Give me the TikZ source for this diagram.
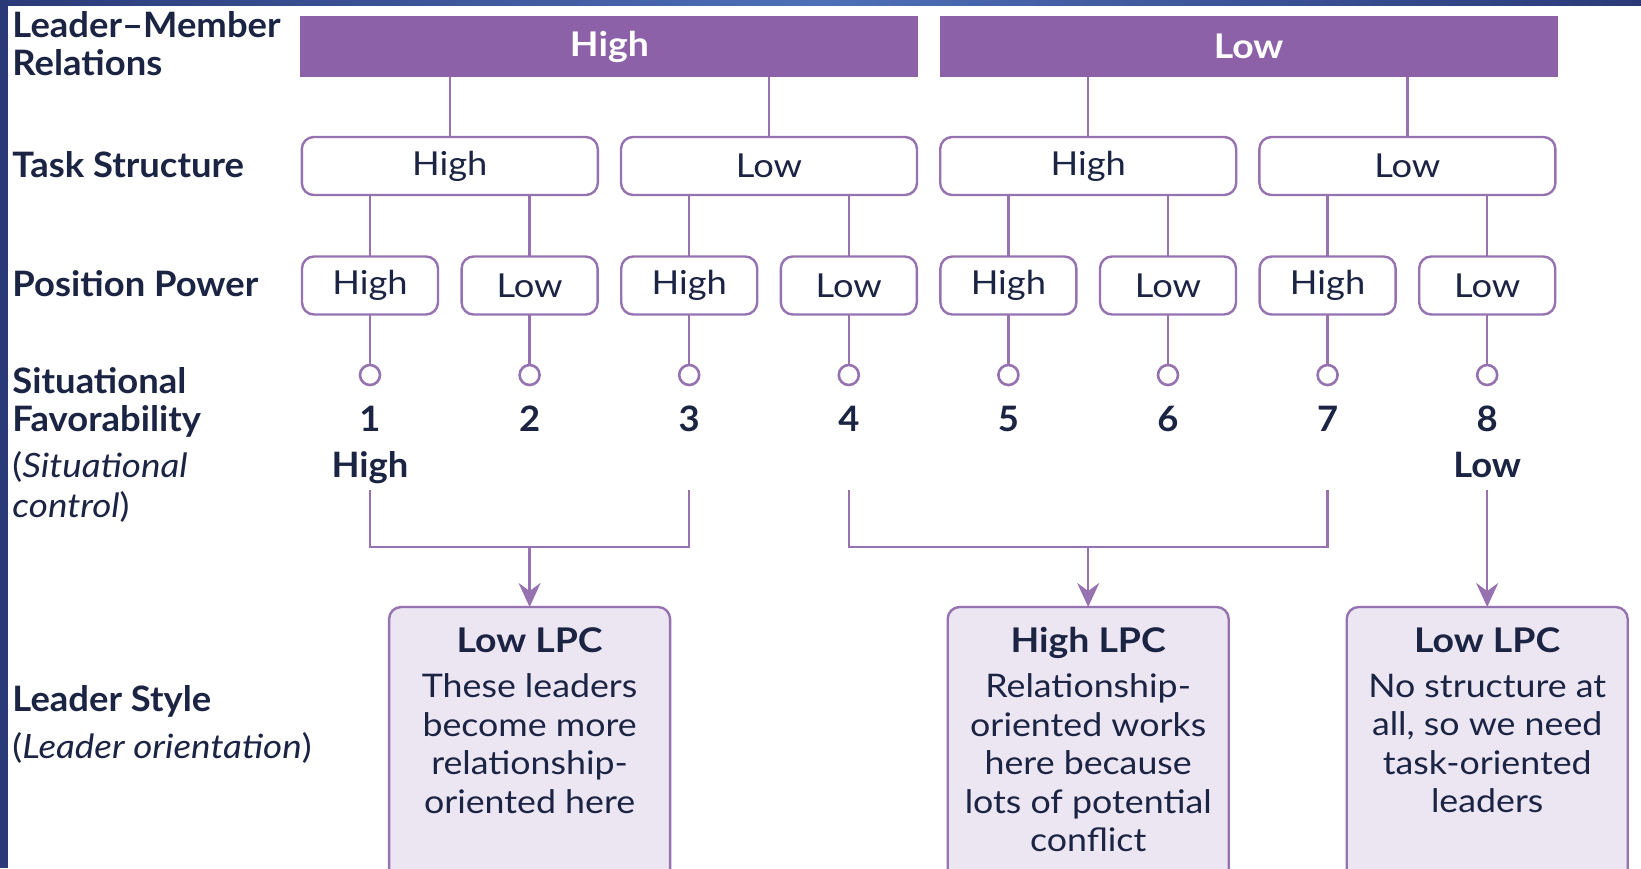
\documentclass[tikz,border=0pt]{standalone}
\usepackage{fontspec}
\setmainfont{Lato}[FakeStretch=1.1]
\newfontfamily\headfont{Lato}[FakeStretch=1.04]
\usetikzlibrary{arrows.meta}
\definecolor{ink}{HTML}{1C2444}
\definecolor{plum}{HTML}{8C61A8}
\definecolor{plumedge}{HTML}{9672B1}
\definecolor{lavender}{HTML}{ECE6F3}
\definecolor{navydark}{HTML}{2A3A78}
\definecolor{navylight}{HTML}{4E6FB7}
\begin{document}
\begin{tikzpicture}[x=1pt,y=-1pt,
  every node/.style={inner sep=0pt, outer sep=0pt, text=ink},
  rowlabel/.style={anchor=base west, font=\headfont\fontsize{35}{38}\selectfont\bfseries},
  rownote/.style={anchor=base west, font=\fontsize{33.5}{38}\selectfont},
  lmr/.style={fill=plum, minimum width=618pt, minimum height=61pt, text=white,
    font=\fontsize{34}{36}\selectfont\bfseries},
  choice/.style={draw=plumedge, line width=2.4pt, rounded corners=12pt, fill=white,
    minimum height=58pt, font=\fontsize{33}{36}\selectfont},
  taskbox/.style={choice, minimum width=296pt},
  powerbox/.style={choice, minimum width=136pt},
  knob/.style={circle, draw=plumedge, line width=2.6pt, fill=white, minimum size=20pt},
  rank/.style={anchor=base, font=\headfont\fontsize{35}{38}\selectfont\bfseries},
  styleframe/.style={draw=plumedge, line width=2.4pt, rounded corners=12pt, fill=lavender,
    minimum width=281pt, minimum height=300pt, anchor=north},
  stylehead/.style={anchor=base, font=\fontsize{34}{38}\selectfont\bfseries},
  stylebody/.style={anchor=north, align=center, font=\fontsize{32.5}{38.5}\selectfont},
  link/.style={draw=plumedge, line width=2.5pt},
  feed/.style={link, -{Stealth[length=24pt, width=22pt, inset=8pt]}}
]
\clip (0,0) rectangle (1641,868);
\fill[white] (0,0) rectangle (1641,868);

% frame strips along the top and left edges
\shade[left color=navydark, right color=navydark, middle color=navylight] (0,0) rectangle (1641,5);
\fill[navydark] (0,0) rectangle (8,868);

% row headings
\node[rowlabel] (lh1) at (12.5,37.5) {Leader–Member};
\node[rowlabel] (lh2) at (12.5,75) {Relations};
\node[rowlabel] (lh3) at (12.5,177) {Task Structure};
\node[rowlabel] (lh4) at (12.5,296.5) {Position Power};
\node[rowlabel] (lh5) at (12.5,393.5) {Situational};
\node[rowlabel] (lh6) at (12.5,431.5) {Favorability};
\node[rownote] (lh7) at (12.5,477.5) {(\textit{Situational}};
\node[rownote] (lh8) at (12.5,517.5) {\textit{control})};
\node[rowlabel] (lh9) at (12.5,711.5) {Leader Style};
\node[rownote] (lh10) at (12.5,758.5) {(\textit{Leader orientation})};

% leader-member relations
\node[lmr] (lmrH) at (609.4,46.5) {High};
\node[lmr] (lmrL) at (1248.6,46.5) {Low};

% task structure
\foreach \t/\cx/\lab/\b in {1/449.8/High/H, 2/769.0/Low/H, 3/1088.2/High/L, 4/1407.4/Low/L}{
  \node[taskbox] (t\t) at (\cx,166) {\lab};
  \draw[link] (t\t.north |- lmr\b.south) -- (t\t.north);
}

% position power, octants and their ranks
\foreach \i/\cx/\lab/\t in {1/370.0/High/1, 2/529.6/Low/1, 3/689.2/High/2, 4/848.8/Low/2,
                           5/1008.4/High/3, 6/1168.0/Low/3, 7/1327.6/High/4, 8/1487.2/Low/4}{
  \node[powerbox] (p\i) at (\cx,285.5) {\lab};
  \draw[link] (p\i.north |- t\t.south) -- (p\i.north);
  \node[knob] (s\i) at (\cx,375) {};
  \draw[link] (p\i.south) -- (s\i.north);
  \node[rank] (n\i) at (\cx,431.5) {\i};
}
\node[rank] (hi) at (370.0,477.5) {High};
\node[rank] (lo) at (1487.2,477.5) {Low};

% leader style boxes
\node[styleframe] (b1) at (529.6,607) {};
\node[stylehead] (h1) at (529.6,652.5) {Low LPC};
\node[stylebody] (d1) at (529.6,674) {These leaders\\become more\\relationship-\\oriented here};

\node[styleframe] (b2) at (1088.2,607) {};
\node[stylehead] (h2) at (1088.2,652.5) {High LPC};
\node[stylebody] (d2) at (1088.2,674) {Relationship-\\oriented works\\here because\\lots of potential\\conflict};

\node[styleframe] (b3) at (1487.2,607) {};
\node[stylehead] (h3) at (1487.2,652.5) {Low LPC};
\node[stylebody] (d3) at (1487.2,674) {No structure at\\all, so we need\\task-oriented\\leaders};

% brackets gathering the octants
\coordinate (k1) at (370.0,490);
\coordinate (k3) at (689.2,490);
\coordinate (k4) at (848.8,490);
\coordinate (k7) at (1327.6,490);
\coordinate (k8) at (1487.2,490);
\coordinate (j1) at (370.0,547);
\coordinate (j3) at (689.2,547);
\coordinate (j4) at (848.8,547);
\coordinate (j7) at (1327.6,547);

\draw[link] (k1) -- (j1) -- (j3) -- (k3);
\draw[link] (k4) -- (j4) -- (j7) -- (k7);
\draw[feed] (b1.north |- j1) -- (b1.north);
\draw[feed] (b2.north |- j4) -- (b2.north);
\draw[feed] (k8) -- (b3.north);
\end{tikzpicture}
\end{document}
